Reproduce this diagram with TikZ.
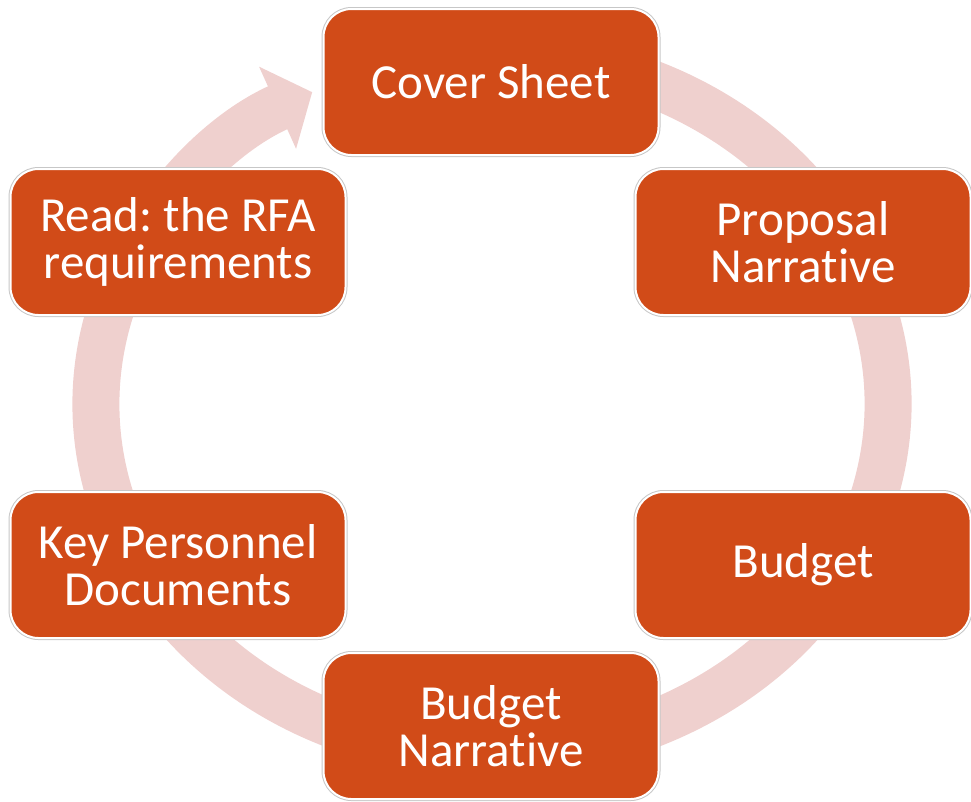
\documentclass[tikz,border=0pt]{standalone}
\usepackage{fontspec}
\setmainfont{Carlito}[RawFeature=-liga]
\usetikzlibrary{arrows.meta}
\definecolor{boxfill}{HTML}{D14B18}
\definecolor{ringfill}{HTML}{EFD0CE}
\frenchspacing

\begin{document}
\begin{tikzpicture}[
    x=1pt, y=1pt,
    box/.style={rectangle, rounded corners=28pt, fill=boxfill, draw=white, line width=2pt,
      preaction={draw=black!22, line width=4pt},
      minimum width=335pt, minimum height=146pt, align=center, text=white,
      font=\fontsize{49}{47}\selectfont},
    ring/.style={draw=ringfill, line width=47pt}
  ]
\useasboundingbox (0,0) rectangle (971,-801);

% Ring
\coordinate (c) at (492,-404);
\draw[ring, -{Triangle[width=88pt, length=38pt]}]
  ([shift={(75:396pt and 350pt)}]c) arc[start angle=75, end angle=-243, x radius=396pt, y radius=350pt];

% Nodes
\node[box] (cover) at (491,-82) {Cover Sheet};
\node[box] (proposal) at (803,-242) {Proposal\\Narrative};
\node[box] (budget) at (803,-565) {Budget};
\node[box] (budgetnarr) at (491,-726) {Budget\\Narrative};
\node[box] (personnel) at (178,-565) {Key Personnel\\Documents};
\node[box] (rfa) at (178,-242) {Read: the RFA\\requirements};

\end{tikzpicture}
\end{document}
